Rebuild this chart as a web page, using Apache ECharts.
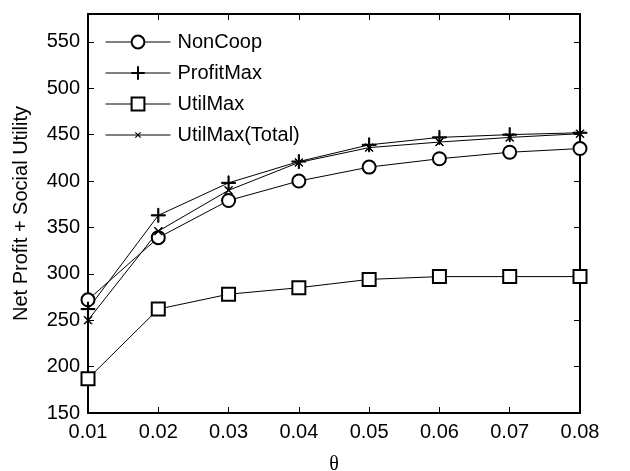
<!DOCTYPE html>
<html>
<head>
<meta charset="utf-8">
<script src="https://cdn.jsdelivr.net/npm/echarts@6/dist/echarts.min.js"></script>
<style>
  html, body { margin: 0; padding: 0; background: #fff; }
  #main { width: 630px; height: 471px; }
</style>
</head>
<body>
<div id="main"></div>
<script>
// theta values on the x axis
var thetas = ['0.01', '0.02', '0.03', '0.04', '0.05', '0.06', '0.07', '0.08'];
var nonCoop = [272, 339, 379, 400, 415, 424, 431, 435];
var profitMax = [262, 363, 398, 421, 439, 447, 450, 452];
var utilMax = [187, 262, 278, 285, 294, 297, 297, 297];
var utilMaxTotal = [250, 346, 390, 420, 436, 442, 447, 451];

var FONT = '"Liberation Sans", Arial, sans-serif';

// marker shapes
var plusPath = 'path://M0,4.6H10V5.4H0ZM4.6,0H5.4V10H4.6Z';
// small x with empty margins so the legend draws it small too
var crossPath = 'path://M0,0L0,0M20,20L20,20M6,6.5L6.5,6L14,13.5L13.5,14ZM13.5,6L14,6.5L6.5,14L6,13.5Z';

function pts(arr) {
  return arr.map(function (v, i) { return [Number(thetas[i]), v]; });
}

function mkSeries(name, data, symbol, size) {
  return {
    name: name,
    type: 'line',
    data: pts(data),
    symbol: symbol,
    symbolSize: size,
    showAllSymbol: true,
    lineStyle: { color: '#000', width: 1 },
    itemStyle: { color: '#000', borderColor: '#000', borderWidth: 1 },
    emphasis: { disabled: true },
    z: 3
  };
}

var chart = echarts.init(document.getElementById('main'));
chart.setOption({
  animation: false,
  backgroundColor: '#fff',
  grid: { left: 88, right: 50, top: 14, bottom: 58, outerBoundsMode: 'none', containLabel: false },
  legend: {
    orient: 'vertical',
    left: 105,
    top: 32,
    padding: 0,
    itemWidth: 65,
    itemHeight: 16,
    itemGap: 11,
    lineStyle: { width: 1 },
    itemStyle: { borderWidth: 1 },
    textStyle: { fontFamily: FONT, fontSize: 20, color: '#000', padding: [0, 0, 0, 2] },
    data: ['NonCoop', 'ProfitMax', 'UtilMax', 'UtilMax(Total)']
  },
  xAxis: [{
    type: 'value',
    min: 0.01, max: 0.08, interval: 0.01,
    name: 'θ',
    nameLocation: 'middle',
    nameGap: 42,
    nameTextStyle: { fontFamily: '"Liberation Serif", "DejaVu Serif", serif', fontSize: 20, color: '#000' },
    axisLine: { lineStyle: { color: '#000', width: 2 } },
    axisTick: { inside: true, length: 6, lineStyle: { color: '#000' } },
    axisLabel: { fontFamily: FONT, fontSize: 20, color: '#000', margin: 9,
      formatter: function (v) { return v.toFixed(2); } },
    splitLine: { show: false }
  }, {
    type: 'value',
    position: 'top',
    min: 0.01, max: 0.08, interval: 0.01,
    axisLine: { onZero: false, lineStyle: { color: '#000', width: 2 } },
    axisTick: { inside: true, length: 6, lineStyle: { color: '#000' } },
    axisLabel: { show: false },
    splitLine: { show: false }
  }],
  yAxis: [{
    type: 'value',
    min: 150, max: 580, interval: 50,
    name: 'Net Profit + Social Utility',
    nameLocation: 'middle',
    nameGap: 57,
    nameTextStyle: { fontFamily: FONT, fontSize: 20, color: '#000' },
    axisLine: { show: true, lineStyle: { color: '#000', width: 2 } },
    axisTick: { show: true, inside: true, length: 6, lineStyle: { color: '#000' } },
    axisLabel: { fontFamily: FONT, fontSize: 20, color: '#000', margin: 8, showMaxLabel: false },
    splitLine: { show: false }
  }, {
    type: 'value',
    position: 'right',
    min: 150, max: 580, interval: 50,
    axisLine: { show: true, onZero: false, lineStyle: { color: '#000', width: 2 } },
    axisTick: { show: true, inside: true, length: 6, lineStyle: { color: '#000' } },
    axisLabel: { show: false },
    splitLine: { show: false }
  }],
  series: [
    mkSeries('NonCoop', nonCoop, 'emptyCircle', 13),
    mkSeries('ProfitMax', profitMax, plusPath, 14),
    mkSeries('UtilMax', utilMax, 'emptyRect', 13),
    mkSeries('UtilMax(Total)', utilMaxTotal, crossPath, 20)
  ]
});
</script>
</body>
</html>
